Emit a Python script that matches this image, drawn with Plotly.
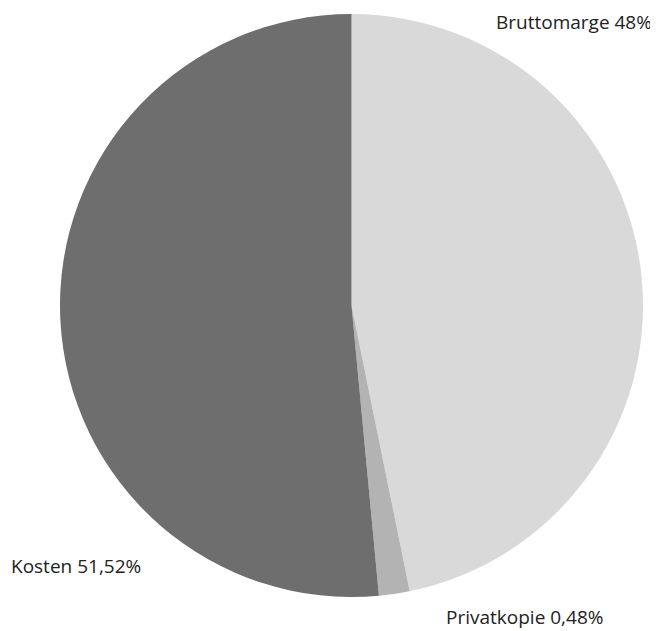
import plotly.graph_objects as go

categories = ["Bruttomarge", "Privatkopie", "Kosten"]
slice_values = [46.8, 1.7, 51.5]
label_texts = ["48%", "0,48%", "51,52%"]
colors = ["#d9d9d9", "#b3b3b3", "#6e6e6e"]

OFF = 8  # page body margin
W, H = 658 - OFF, 631 - OFF
fig = go.Figure(go.Pie(
    labels=categories,
    values=slice_values,
    sort=False,
    direction="clockwise",
    rotation=0,
    marker=dict(colors=colors, line=dict(width=0)),
    textinfo="none",
    hoverinfo="label+percent",
    showlegend=False,
    domain=dict(x=[(60 - OFF) / W, (643 - OFF) / W],
                y=[1 - (597 - OFF) / H, 1 - (14 - OFF) / H]),
))

# label positions (pixels in the page): anchor x, center y, x anchor
label_pos = [(653, 22, "right"), (445, 617, "left"), (10, 566, "left")]
font = dict(family="Open Sans, sans-serif", size=19, color="#222222")
for cat, txt, (px, py, xa) in zip(categories, label_texts, label_pos):
    fig.add_annotation(
        text=f"{cat} {txt}", x=(px - OFF) / W, y=1 - (py - OFF) / H,
        xref="paper", yref="paper", borderpad=0,
        xanchor=xa, yanchor="middle", showarrow=False, font=font,
    )

fig.update_layout(
    width=W, height=H,
    margin=dict(l=0, r=0, t=0, b=0),
    paper_bgcolor="white", plot_bgcolor="white",
)
fig.write_html("out.html")
